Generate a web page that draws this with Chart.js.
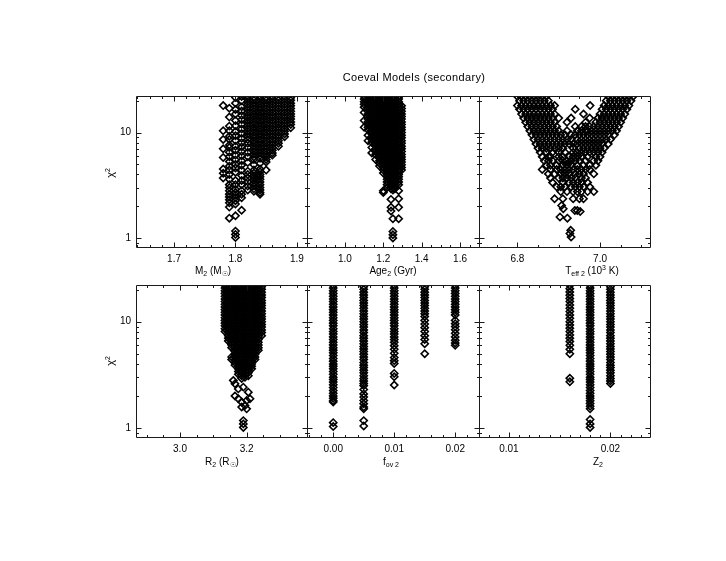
<!DOCTYPE html>
<html>
<head>
<meta charset="utf-8">
<title>Coeval Models (secondary)</title>
<script src="https://cdn.jsdelivr.net/npm/chart.js@4.4.1/dist/chart.umd.min.js"></script>
<style>
  html, body { margin: 0; padding: 0; background: #fff; }
  #figure { position: relative; width: 726px; height: 561px; overflow: hidden;
            font-family: "Liberation Sans", Arial, sans-serif; color: #000; }
  #figure canvas { position: absolute; left: 0; top: 0; }
  .txt { position: absolute; font-size: 10px; white-space: nowrap; line-height: 1;
         transform: translate(-50%, -50%); z-index: 5; }
  .txt sub { font-size: 7px; vertical-align: -2px; line-height: 0; }
  .txt sup { font-size: 7px; vertical-align: 4px; line-height: 0; }
  .rot { transform: translate(-50%, -50%) rotate(-90deg); }
</style>
</head>
<body>
<div id="figure">
  <div class="txt" style="left:414px;top:77px;font-size:11px;letter-spacing:0.35px">Coeval Models (secondary)</div>
  <div class="txt rot" style="left:110px;top:173px;font-size:11px">χ<sup>2</sup></div>
  <div class="txt rot" style="left:110px;top:361px;font-size:11px">χ<sup>2</sup></div>
  <div class="txt" style="left:213px;top:271px">M<sub>2</sub> (M<sub>☉</sub>)</div>
  <div class="txt" style="left:393px;top:271px">Age<sub>2</sub> (Gyr)</div>
  <div class="txt" style="left:592px;top:271px">T<sub>eff 2</sub> (10<sup>3</sup> K)</div>
  <div class="txt" style="left:222px;top:462px">R<sub>2</sub> (R<sub>☉</sub>)</div>
  <div class="txt" style="left:391px;top:462px">f<sub>ov 2</sub></div>
  <div class="txt" style="left:598px;top:462px">Z<sub>2</sub></div>
</div>
<script>
// chi^2 axis, shared by every panel (log scale)
const chiRange = [0.82, 22.2];
const chiTicks = [1, 10];
const chiMinor = [0.9, 2, 3, 4, 5, 6, 7, 8, 9, 20];

// ---- M2 panel: columns of models at fixed mass
const massRange = [1.638, 1.9165];
const massTicks = [1.7, 1.8, 1.9];
const massVals = [1.78, 1.79, 1.80, 1.81, 1.82, 1.83, 1.84, 1.85, 1.86, 1.87, 1.88, 1.89];
const massChi = [
  [18.0, 10.4, 8.6, 7.0, 5.8, 4.5, 4.1, 3.7],
  [17.0, 14.0, 11.5, 10.4, 9.2, 8.6, 7.6, 7.2, 6.5, 5.9, 5.3, 4.8, 4.4, 4.0, 3.6, 3.2, 3.0, 2.8, 2.6, 2.45, 2.3, 2.15, 1.96, 1.54],
  [21.5, 19.0, 16.5, 15.0, 13.0, 11.6, 10.2, 9.3, 8.4, 7.4, 6.8, 6.1, 5.5, 5.0, 4.6, 4.2, 3.5, 3.2, 2.9, 2.7, 2.55, 2.4, 2.25, 2.1, 1.62, 1.16, 1.08, 1.01],
  [22, 20, 17.5, 16, 14.5, 13.2, 12.0, 10.8, 9.8, 8.8, 8.0, 7.3, 6.6, 6.0, 5.4, 4.9, 4.4, 3.9, 3.5, 3.2, 2.8, 2.6, 2.4, 1.83],
  [22, 20.8, 19.6, 18.5, 17.4, 16.4, 15.5, 14.6, 13.8, 13.0, 12.3, 11.6, 10.9, 10.3, 9.7, 9.15, 8.6, 7.9, 7.2, 6.5, 5.9, 5.2, 4.3, 4.0, 3.7, 3.4, 3.1, 2.85],
  [21.4, 20.2, 19.0, 17.9, 16.9, 15.9, 15.0, 14.2, 13.4, 12.6, 11.9, 11.2, 10.6, 10.0, 9.4, 8.9, 8.35, 7.9, 7.4, 7.0, 6.6, 6.2, 5.85, 5.55, 4.95, 4.4, 4.12, 3.9, 3.7, 3.5, 3.3, 3.1, 2.92, 2.77],
  [22, 20.8, 19.6, 18.5, 17.4, 16.4, 15.5, 14.6, 13.8, 13.0, 12.3, 11.6, 10.9, 10.3, 9.7, 9.15, 8.6, 8.1, 7.65, 7.2, 6.8, 6.4, 6.05, 5.7, 5.1, 4.5, 4.25, 4.0, 3.8, 3.6, 3.4, 3.2, 3.0, 2.85, 2.7, 2.6],
  [21.4, 20.2, 19.0, 17.9, 16.9, 15.9, 15.0, 14.2, 13.4, 12.6, 11.9, 11.2, 10.6, 10.0, 9.4, 8.9, 8.35, 7.9, 7.4, 7.0, 6.6, 6.2, 5.85, 5.55, 5.25, 4.4],
  [22, 20.8, 19.6, 18.5, 17.4, 16.4, 15.5, 14.6, 13.8, 13.0, 12.3, 11.6, 10.9, 10.3, 9.7, 9.15, 8.6, 8.1, 7.65, 7.2, 6.8, 6.4, 6.1],
  [21.4, 20.2, 19.0, 17.9, 16.9, 15.9, 15.0, 14.2, 13.4, 12.6, 11.9, 11.2, 10.6, 10.0, 9.4, 8.9, 8.35, 7.9, 7.4],
  [22, 20.8, 19.6, 18.5, 17.4, 16.4, 15.5, 14.6, 13.8, 13.0, 12.3, 11.6, 10.9, 10.3, 9.7, 9.1],
  [21.4, 20.2, 19.0, 17.9, 16.9, 15.9, 15.0, 14.2, 13.4, 12.6, 11.9, 11.1]
];

// ---- Age panel
const ageRange = [0.802, 1.699];
const ageTicks = [1.0, 1.2, 1.4, 1.6];
const ageVals = [1.10, 1.12, 1.14, 1.16, 1.18, 1.20, 1.22, 1.24, 1.25, 1.26, 1.28, 1.295];
const ageChi = [
  [22, 20.8, 19.6, 18.5, 17.4, 15.5, 13.0, 11.2],
  [21.4, 20.2, 19.0, 17.9, 16.9, 15.9, 15.0, 14.2, 13.4, 12.6, 11.9, 11.2, 10.6, 9.4, 8.35],
  [22, 20.8, 19.6, 18.5, 17.4, 16.4, 15.5, 14.6, 13.8, 13.0, 12.3, 11.6, 10.9, 10.3, 9.7, 9.15, 8.6, 8.1, 7.2, 6.4],
  [21.4, 20.2, 19.0, 17.9, 16.9, 15.9, 15.0, 14.2, 13.4, 12.6, 11.9, 11.2, 10.6, 10.0, 9.4, 8.9, 8.35, 7.9, 7.4, 7.0, 6.6, 6.2, 5.55],
  [22, 20.8, 19.6, 18.5, 17.4, 16.4, 15.5, 14.6, 13.8, 13.0, 12.3, 11.6, 10.9, 10.3, 9.7, 9.15, 8.6, 8.1, 7.65, 7.2, 6.8, 6.4, 6.05, 5.7, 5.4, 5.1, 4.8],
  [21.4, 20.2, 19.0, 17.9, 16.9, 15.9, 15.0, 14.2, 13.4, 12.6, 11.9, 11.2, 10.6, 10.0, 9.4, 8.9, 8.35, 7.9, 7.4, 7.0, 6.6, 6.2, 5.85, 5.55, 5.25, 4.95, 4.65, 4.4, 4.12, 2.8, 2.7],
  [22, 20.8, 19.6, 18.5, 17.4, 16.4, 15.5, 14.6, 13.8, 13.0, 12.3, 11.6, 10.9, 10.3, 9.7, 9.15, 8.6, 8.1, 7.65, 7.2, 6.8, 6.4, 6.05, 5.7, 5.4, 5.1, 4.8, 4.5, 4.25, 4.0, 3.8, 3.6, 3.4, 3.2, 3.0],
  [21.4, 20.2, 19.0, 17.9, 16.9, 15.9, 15.0, 14.2, 13.4, 12.6, 11.9, 11.2, 10.6, 10.0, 9.4, 8.9, 8.35, 7.9, 7.4, 7.0, 6.6, 6.2, 5.85, 5.55, 5.25, 4.95, 4.65, 4.4, 4.12, 3.9, 3.7, 3.5, 3.3, 3.1, 2.92, 2.32, 1.95, 1.8],
  [22, 20.8, 19.6, 18.5, 17.4, 16.4, 15.5, 14.6, 13.8, 13.0, 12.3, 11.6, 10.9, 10.3, 9.7, 9.15, 8.6, 8.1, 7.65, 7.2, 6.8, 6.4, 6.05, 5.7, 5.4, 5.1, 4.8, 4.5, 4.25, 4.0, 3.8, 3.6, 3.4, 3.2, 3.0, 2.85, 1.52, 1.15, 1.07, 1.0],
  [21.4, 20.2, 19.0, 17.9, 16.9, 15.9, 15.0, 14.2, 13.4, 12.6, 11.9, 11.2, 10.6, 10.0, 9.4, 8.9, 8.35, 7.9, 7.4, 7.0, 6.6, 6.2, 5.85, 5.55, 5.25, 4.95, 4.65, 4.4, 4.12, 3.9, 3.7, 3.5, 3.3, 3.1, 2.92],
  [22, 20.8, 19.6, 18.5, 17.4, 16.4, 15.5, 14.6, 13.8, 13.0, 12.3, 11.6, 10.9, 10.3, 9.7, 9.15, 8.6, 8.1, 7.65, 7.2, 6.8, 6.4, 6.05, 5.7, 5.4, 5.1, 4.8, 4.5, 4.25, 4.0, 3.8, 3.6, 3.4, 3.2, 2.8, 2.35, 1.95, 1.52],
  [17.9, 16.9, 15.9, 15.0, 14.2, 13.4, 12.6, 11.9, 11.2, 10.6, 10.0, 9.4, 8.9, 8.35, 7.9, 7.4, 7.0, 6.6, 6.2, 5.85, 5.55, 5.25, 4.95, 4.65, 4.4]
];

// ---- Teff panel (10^3 K): rows of equal chi^2
const teffRange = [6.707, 7.121];
const teffTicks = [6.8, 7.0];
const teffChi = [22, 20, 18, 16.6, 15, 13.7, 12.5, 11.4, 10.4, 9.5, 8.6, 7.8, 7.1, 6.5, 5.9, 5.4, 4.9, 4.45, 4.05, 3.7, 3.35, 3.05, 2.75, 2.35, 2.03, 1.89, 1.82, 1.78, 1.58, 1.54, 1.18, 1.1, 1.02];
const teffVals = [
  [6.80, 6.81, 6.82, 6.83, 6.84, 6.85, 6.86, 6.87, 7.02, 7.03, 7.04, 7.05, 7.06, 7.07, 7.08],
  [6.805, 6.815, 6.825, 6.835, 6.845, 6.855, 6.865, 6.875, 7.015, 7.025, 7.035, 7.045, 7.055, 7.065, 7.075],
  [6.80, 6.81, 6.82, 6.83, 6.84, 6.85, 6.86, 6.87, 6.88, 6.89, 6.976, 7.01, 7.02, 7.03, 7.04, 7.05, 7.06, 7.07],
  [6.805, 6.815, 6.825, 6.835, 6.845, 6.855, 6.865, 6.875, 6.885, 6.94, 7.005, 7.015, 7.025, 7.035, 7.045, 7.055, 7.065],
  [6.81, 6.82, 6.83, 6.84, 6.85, 6.86, 6.87, 6.88, 6.89, 6.96, 7.0, 7.01, 7.02, 7.03, 7.04, 7.05, 7.06],
  [6.815, 6.825, 6.835, 6.845, 6.855, 6.865, 6.875, 6.885, 6.90, 6.93, 6.975, 6.995, 7.005, 7.015, 7.025, 7.035, 7.045, 7.055],
  [6.82, 6.83, 6.84, 6.85, 6.86, 6.87, 6.88, 6.89, 6.92, 6.965, 6.99, 7.0, 7.01, 7.02, 7.03, 7.04, 7.05],
  [6.825, 6.835, 6.845, 6.855, 6.865, 6.875, 6.885, 6.895, 6.94, 6.955, 6.965, 6.975, 6.985, 6.995, 7.005, 7.015, 7.025, 7.035, 7.045],
  [6.83, 6.84, 6.85, 6.86, 6.87, 6.88, 6.89, 6.90, 6.92, 6.945, 6.955, 6.965, 6.97, 6.98, 6.99, 7.0, 7.01, 7.02, 7.03, 7.04],
  [6.835, 6.845, 6.855, 6.865, 6.875, 6.885, 6.895, 6.905, 6.915, 6.93, 6.94, 6.95, 6.96, 6.97, 6.98, 6.99, 7.0, 7.01, 7.02, 7.035],
  [6.84, 6.85, 6.86, 6.87, 6.88, 6.89, 6.90, 6.91, 6.92, 6.93, 6.945, 6.955, 6.965, 6.975, 6.985, 6.995, 7.005, 7.015, 7.025],
  [6.845, 6.855, 6.865, 6.875, 6.885, 6.895, 6.905, 6.915, 6.925, 6.935, 6.945, 6.955, 6.965, 6.975, 6.985, 6.995, 7.005, 7.02],
  [6.85, 6.86, 6.87, 6.88, 6.89, 6.90, 6.91, 6.935, 6.95, 6.96, 6.97, 6.98, 6.99, 7.0, 7.01],
  [6.855, 6.87, 6.885, 6.90, 6.915, 6.935, 6.945, 6.955, 6.965, 6.975, 6.985, 6.995, 7.005],
  [6.86, 6.875, 6.88, 6.90, 6.91, 6.925, 6.935, 6.945, 6.955, 6.97, 6.99, 7.0],
  [6.865, 6.875, 6.885, 6.90, 6.91, 6.92, 6.93, 6.94, 6.95, 6.965, 6.985, 6.995],
  [6.87, 6.88, 6.895, 6.91, 6.92, 6.93, 6.945, 6.96, 6.975, 6.99],
  [6.86, 6.88, 6.895, 6.905, 6.915, 6.925, 6.935, 6.945, 6.955, 6.965, 6.975],
  [6.875, 6.89, 6.905, 6.915, 6.925, 6.94, 6.95, 6.96, 6.985],
  [6.88, 6.90, 6.91, 6.92, 6.93, 6.94, 6.955, 6.965],
  [6.885, 6.91, 6.925, 6.935, 6.945, 6.955, 6.97],
  [6.895, 6.905, 6.915, 6.93, 6.94, 6.95, 6.96, 6.975],
  [6.905, 6.92, 6.935, 6.945, 6.955, 6.97, 6.985],
  [6.89, 6.91, 6.935, 6.95, 6.96],
  [6.907], [6.911], [6.939, 6.945], [6.952], [6.903], [6.921], [6.929], [6.927], [6.93]
];

// ---- R2 panel
const radRange = [2.868, 3.381];
const radTicks = [3.0, 3.2];
const radVals = [3.135, 3.145, 3.155, 3.165, 3.175, 3.185, 3.195, 3.205, 3.215, 3.225, 3.235, 3.245];
const radChi = [
  [22, 20.8, 19.6, 18.5, 17.4, 16.4, 15.5, 14.6, 13.8, 13.0, 12.3, 11.6, 10.9, 10.3, 9.7, 9.15, 8.6, 8.1],
  [21.4, 20.2, 19.0, 17.9, 16.9, 15.9, 15.0, 14.2, 13.4, 12.6, 11.9, 11.2, 10.6, 10.0, 9.4, 8.9, 8.35, 7.9, 7.4, 7.0, 6.6],
  [22, 20.8, 19.6, 18.5, 17.4, 16.4, 15.5, 14.6, 13.8, 13.0, 12.3, 11.6, 10.9, 10.3, 9.7, 9.15, 8.6, 8.1, 7.65, 7.2, 6.8, 6.4, 6.05, 5.7, 4.65, 4.4],
  [21.4, 20.2, 19.0, 17.9, 16.9, 15.9, 15.0, 14.2, 13.4, 12.6, 11.9, 11.2, 10.6, 10.0, 9.4, 8.9, 8.35, 7.9, 7.4, 7.0, 6.6, 6.2, 5.85, 5.55, 5.25, 4.95, 4.65, 4.4, 4.12, 3.9],
  [22, 20.8, 19.6, 18.5, 17.4, 16.4, 15.5, 14.6, 13.8, 13.0, 12.3, 11.6, 10.9, 10.3, 9.7, 9.15, 8.6, 8.1, 7.65, 7.2, 6.8, 6.4, 6.05, 5.7, 5.4, 5.1, 4.8, 4.5, 4.25, 4.0, 3.8, 3.6, 3.4, 3.2],
  [21.4, 20.2, 19.0, 17.9, 16.9, 15.9, 15.0, 14.2, 13.4, 12.6, 11.9, 11.2, 10.6, 10.0, 9.4, 8.9, 8.35, 7.9, 7.4, 7.0, 6.6, 6.2, 5.85, 5.55, 5.25, 4.95, 4.65, 4.4, 4.12, 3.9, 3.7, 3.5, 3.3, 3.1, 2.92],
  [22, 20.8, 19.6, 18.5, 17.4, 16.4, 15.5, 14.6, 13.8, 13.0, 12.3, 11.6, 10.9, 10.3, 9.7, 9.15, 8.6, 8.1, 7.65, 7.2, 6.8, 6.4, 6.05, 5.7, 5.4, 5.1, 4.8, 4.5, 4.25, 4.0, 3.8, 3.6, 3.4, 3.2, 3.0],
  [21.4, 20.2, 19.0, 17.9, 16.9, 15.9, 15.0, 14.2, 13.4, 12.6, 11.9, 11.2, 10.6, 10.0, 9.4, 8.9, 8.35, 7.9, 7.4, 7.0, 6.6, 6.2, 5.85, 5.55, 5.25, 4.95, 4.65, 4.4, 4.12, 3.9, 3.7, 3.5, 3.3, 3.1],
  [22, 20.8, 19.6, 18.5, 17.4, 16.4, 15.5, 14.6, 13.8, 13.0, 12.3, 11.6, 10.9, 10.3, 9.7, 9.15, 8.6, 8.1, 7.65, 7.2, 6.8, 6.4, 6.05, 5.7, 5.4, 5.1, 4.8, 4.5, 4.25, 4.0, 3.8, 3.6],
  [21.4, 20.2, 19.0, 17.9, 16.9, 15.9, 15.0, 14.2, 13.4, 12.6, 11.9, 11.2, 10.6, 10.0, 9.4, 8.9, 8.35, 7.9, 7.4, 7.0, 6.6, 6.2, 5.85, 5.55, 5.25, 4.95, 4.65, 4.4],
  [22, 20.8, 19.6, 18.5, 17.4, 16.4, 15.5, 14.6, 13.8, 13.0, 12.3, 11.6, 10.9, 10.3, 9.7, 9.15, 8.6, 8.1, 7.65, 7.2, 6.8, 6.4, 6.05, 5.7, 5.4],
  [21.4, 20.2, 19.0, 17.9, 16.9, 15.9, 15.0, 14.2, 13.4, 12.6, 11.9, 11.2, 10.6, 10.0, 9.4, 8.9, 8.35, 7.9, 7.4]
];
// the scattered low-chi^2 radius models below the main cloud
const radLowR   = [3.16, 3.165, 3.165, 3.175, 3.175, 3.185, 3.185, 3.19, 3.195, 3.2, 3.2, 3.205, 3.21, 3.19, 3.19, 3.19];
const radLowChi = [2.8, 2.6, 2.0, 2.33, 1.88, 1.75, 1.57, 2.42, 1.62, 1.81, 1.51, 2.17, 1.88, 1.17, 1.09, 1.01];

// ---- overshooting panel
const fovRange = [-0.0043, 0.0239];
const fovTicks = [0.00, 0.01, 0.02];
const fovVals = [0.000, 0.005, 0.010, 0.015, 0.020];
const fovChi = [
  [22, 20.8, 19.6, 18.5, 17.4, 16.4, 15.5, 14.6, 13.8, 13.0, 12.3, 11.6, 10.9, 10.3, 9.7, 9.15, 8.6, 8.1, 7.65, 7.2, 6.8, 6.4, 6.05, 5.7, 5.4, 5.1, 4.8, 4.5, 4.25, 4.0, 3.8, 3.6, 3.4, 3.2, 3.0, 2.85, 2.7, 2.55, 2.4, 2.25, 2.12, 2.0, 1.9, 1.8, 1.75, 1.12, 1.03],
  [21.4, 20.2, 19.0, 17.9, 16.9, 15.9, 15.0, 14.2, 13.4, 12.6, 11.9, 11.2, 10.6, 10.0, 9.4, 8.9, 8.35, 7.9, 7.4, 7.0, 6.6, 6.2, 5.85, 5.55, 5.25, 4.95, 4.65, 4.4, 4.12, 3.9, 3.7, 3.5, 3.3, 3.1, 2.92, 2.77, 2.62, 2.5, 2.3, 2.09, 1.95, 1.81, 1.69, 1.57, 1.51, 1.17, 1.04],
  [22, 20.8, 19.6, 18.5, 17.4, 16.4, 15.5, 14.6, 13.8, 13.0, 12.3, 11.6, 10.9, 10.3, 9.7, 9.15, 8.6, 8.1, 7.65, 7.2, 6.8, 6.4, 5.95, 5.5, 5.05, 4.6, 4.3, 4.05, 3.26, 3.03, 2.53],
  [21.4, 20.2, 19.0, 17.9, 16.9, 15.9, 15.0, 14.2, 13.4, 12.6, 11.9, 11.2, 10.3, 9.5, 8.8, 8.1, 7.4, 6.8, 6.2, 5.0],
  [22, 20.8, 19.6, 18.5, 17.4, 16.4, 15.5, 14.6, 13.8, 13.0, 12.3, 11.6, 10.3, 9.6, 9.0, 8.4, 7.8, 7.2, 6.7, 6.3, 6.0]
];

// ---- metallicity panel
const zRange = [0.00705, 0.0239];
const zTicks = [0.01, 0.02];
const zVals = [0.016, 0.018, 0.020];
const zChi = [
  [22, 20.5, 19.1, 17.8, 16.6, 15.5, 14.4, 13.4, 12.5, 11.6, 10.8, 10.0, 9.3, 8.7, 8.1, 7.5, 7.0, 6.5, 6.0, 5.5, 5.0, 2.94, 2.72],
  [22, 20.8, 19.6, 18.5, 17.4, 16.4, 15.5, 14.6, 13.8, 13.0, 12.3, 11.6, 10.9, 10.3, 9.7, 9.15, 8.6, 8.1, 7.65, 7.2, 6.8, 6.4, 6.05, 5.7, 5.4, 5.1, 4.8, 4.5, 4.25, 4.0, 3.8, 3.6, 3.4, 3.2, 3.0, 2.85, 2.7, 2.55, 2.4, 2.25, 2.12, 2.0, 1.9, 1.8, 1.7, 1.6, 1.51, 1.2, 1.09, 1.01],
  [21.4, 20.2, 19.0, 17.9, 16.9, 15.9, 15.0, 14.2, 13.4, 12.6, 11.9, 11.2, 10.6, 10.0, 9.4, 8.9, 8.35, 7.9, 7.4, 7.0, 6.6, 6.2, 5.85, 5.55, 5.25, 4.95, 4.65, 4.4, 4.12, 3.9, 3.7, 3.5, 3.3, 3.1, 2.92, 2.77, 2.62]
];

// build {x, y} points from a list of x positions and a chi^2 list per position
function fromColumns(xs, chis) {
  const pts = [];
  xs.forEach((x, i) => chis[i].forEach(c => pts.push({ x: x, y: c })));
  return pts;
}
function fromRows(chis, xs) {
  const pts = [];
  chis.forEach((c, i) => xs[i].forEach(x => pts.push({ x: x, y: c })));
  return pts;
}

const W = 726, H = 561;
const Y_W = 40, X_H = 30;   // room kept for tick labels

const panels = [
  { box: [136, 96, 307, 247], range: massRange, ticks: massTicks, digits: 1, minor: 0.02, yLabels: true,
    points: fromColumns(massVals, massChi) },
  { box: [307, 96, 479, 247], range: ageRange, ticks: ageTicks, digits: 1, minor: 0.05, yLabels: false,
    points: fromColumns(ageVals, ageChi) },
  { box: [479, 96, 650, 247], range: teffRange, ticks: teffTicks, digits: 1, minor: 0.05, yLabels: false,
    points: fromRows(teffChi, teffVals) },
  { box: [136, 285, 307, 437], range: radRange, ticks: radTicks, digits: 1, minor: 0.05, yLabels: true,
    points: fromColumns(radVals, radChi).concat(radLowR.map((r, i) => ({ x: r, y: radLowChi[i] }))) },
  { box: [307, 285, 479, 437], range: fovRange, ticks: fovTicks, digits: 2, minor: 0.002, yLabels: false,
    points: fromColumns(fovVals, fovChi) },
  { box: [479, 285, 650, 437], range: zRange, ticks: zTicks, digits: 2, minor: 0.001, yLabels: false,
    points: fromColumns(zVals, zChi) }
];

function minorValues(lo, hi, step) {
  const out = [];
  for (let k = Math.ceil(lo / step - 1e-9); k * step <= hi + 1e-12; k++) out.push(k * step);
  return out;
}

// IDL style frame: box round the plot, ticks pointing inwards on all four sides
function framePlugin(p) {
  return {
    id: 'idlFrame',
    afterDatasetsDraw(chart) {
      const { ctx, chartArea: a } = chart;
      const xs = chart.scales.x, ys = chart.scales.y;
      const L = Math.round(a.left) + 0.5, R = Math.round(a.right) + 0.5;
      const T = Math.round(a.top) + 0.5, B = Math.round(a.bottom) + 0.5;
      ctx.save();
      ctx.strokeStyle = '#1a1a1a';
      ctx.lineWidth = 1;
      ctx.beginPath();
      ctx.rect(L, T, R - L, B - T);
      const xTick = (v, len) => {
        const px = Math.round(xs.getPixelForValue(v)) + 0.5;
        ctx.moveTo(px, B); ctx.lineTo(px, B - len);
        ctx.moveTo(px, T); ctx.lineTo(px, T + len);
      };
      const yTick = (v, len) => {
        const py = Math.round(ys.getPixelForValue(v)) + 0.5;
        ctx.moveTo(L, py); ctx.lineTo(L + len, py);
        ctx.moveTo(R, py); ctx.lineTo(R - len, py);
      };
      minorValues(p.range[0], p.range[1], p.minor).forEach(v => xTick(v, 2.5));
      p.ticks.forEach(v => xTick(v, 5));
      chiMinor.forEach(v => yTick(v, 2.5));
      chiTicks.forEach(v => yTick(v, 5));
      ctx.stroke();
      ctx.restore();
    }
  };
}

Chart.defaults.font.family = '"Liberation Sans", Arial, sans-serif';
Chart.defaults.font.size = 10;
Chart.defaults.color = '#000';

const figure = document.getElementById('figure');
panels.forEach(p => {
  const canvas = document.createElement('canvas');
  canvas.width = W;
  canvas.height = H;
  canvas.style.width = W + 'px';
  canvas.style.height = H + 'px';
  figure.appendChild(canvas);

  const yWidth = p.yLabels ? Y_W : 0;
  new Chart(canvas, {
    type: 'scatter',
    data: {
      datasets: [{
        data: p.points,
        pointStyle: 'rectRot',
        pointRadius: 3.6,
        pointHoverRadius: 3.6,
        borderColor: '#000',
        backgroundColor: 'rgba(0,0,0,0)',
        borderWidth: 1.6,
        clip: 0
      }]
    },
    options: {
      responsive: false,
      animation: false,
      devicePixelRatio: 1,
      events: [],
      layout: {
        padding: {
          left: p.box[0] - yWidth,
          top: p.box[1],
          right: W - p.box[2],
          bottom: H - p.box[3] - X_H
        }
      },
      plugins: { legend: { display: false }, tooltip: { enabled: false } },
      scales: {
        x: {
          type: 'linear',
          min: p.range[0],
          max: p.range[1],
          grid: { display: false, drawTicks: false },
          border: { display: false },
          afterBuildTicks: s => { s.ticks = p.ticks.map(v => ({ value: v })); },
          afterFit: s => { s.height = X_H; },
          ticks: {
            autoSkip: false,
            maxRotation: 0,
            padding: 6,
            callback: v => Number(v).toFixed(p.digits)
          }
        },
        y: {
          type: 'logarithmic',
          display: p.yLabels,
          min: chiRange[0],
          max: chiRange[1],
          grid: { display: false, drawTicks: false },
          border: { display: false },
          afterBuildTicks: s => { s.ticks = chiTicks.map(v => ({ value: v })); },
          afterFit: s => { s.width = yWidth; },
          ticks: { padding: 5, callback: v => String(v) }
        }
      }
    },
    plugins: [framePlugin(p)]
  });
});
</script>
</body>
</html>
